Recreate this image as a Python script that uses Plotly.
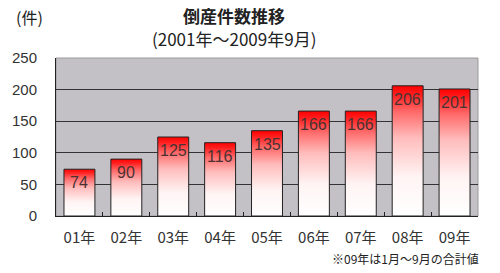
import plotly.graph_objects as go

categories = ["01年", "02年", "03年", "04年", "05年", "06年", "07年", "08年", "09年"]
values = [74, 90, 125, 116, 135, 166, 166, 206, 201]
y_ticks = [0, 50, 100, 150, 200, 250]

W, H = 500, 273
L, R, T, B = 47, 22, 58, 57
FONT = "Liberation Sans, Arial, Noto Sans CJK JP, sans-serif"
JFONT = "Noto Sans CJK JP, sans-serif"
BAR_W = 0.66

def px(x):
    return (x - L) / (W - L - R)

def py(y):
    return 1 - (y - T) / (H - T - B)

fig = go.Figure()
xs = list(range(len(categories)))
for i, v in zip(xs, values):
    fig.add_trace(go.Scatter(
        x=[i - BAR_W / 2, i + BAR_W / 2, i + BAR_W / 2, i - BAR_W / 2, i - BAR_W / 2],
        y=[0, 0, v, v, 0],
        mode="lines", line=dict(width=1, color="#222222"), fill="toself",
        fillgradient=dict(type="vertical", start=0, stop=v,
                          colorscale=[[0, "#ffffff"], [0.3, "#fff4f4"], [0.6, "#ffbcbc"],
                                      [0.8, "#ff6a6a"], [0.93, "#ff2020"], [1, "#ff0000"]]),
        hoverinfo="skip", showlegend=False,
    ))

for i, v in zip(xs, values):
    fig.add_annotation(x=i, y=v, xref="x", yref="y", text=str(v), showarrow=False,
                       xanchor="center", yanchor="top", yshift=-3,
                       font=dict(family=FONT, size=16, color="#4a3232"))

fig.update_layout(
    width=W, height=H, margin=dict(l=L, r=R, t=T, b=B),
    paper_bgcolor="white", plot_bgcolor="#c3c1c6",
    font=dict(family=FONT, size=15, color="#333333"),
    showlegend=False,
)
fig.update_xaxes(
    range=[-0.5, len(categories) - 0.5], tickvals=xs, ticktext=categories,
    tickfont=dict(family=JFONT, size=15, color="#333333"),
    ticks="outside", ticklen=8, tickcolor="rgba(0,0,0,0)",
    showgrid=False, zeroline=False, showline=True, linecolor="#222222", linewidth=1,
    mirror=False,
    minor=dict(tickvals=[i + 0.5 for i in xs[:-1]], ticks="inside", ticklen=4, tickcolor="#222222", showgrid=False),
)
fig.update_yaxes(
    range=[0, 250], tickvals=y_ticks,
    tickfont=dict(family=FONT, size=15, color="#333333"),
    ticks="outside", ticklen=15, tickcolor="rgba(0,0,0,0)",
    showgrid=True, gridcolor="#333333", gridwidth=1, zeroline=False,
    showline=True, linecolor="#222222", linewidth=1,
)
fig.add_shape(type="rect", xref="paper", yref="paper", x0=0, x1=1, y0=0, y1=1,
              line=dict(color="#9a9a9a", width=1), layer="below")

anns = [
    dict(text="<b>倒産件数推移</b>", x=px(229), y=py(16), size=17, xanchor="center"),
    dict(text="(2001年～2009年9月)", x=px(229), y=py(38), size=17, xanchor="center"),
    dict(text="(件)", x=px(4), y=py(17), size=16, xanchor="left"),
    dict(text="※09年は1月～9月の合計値", x=px(481), y=py(258), size=12, xanchor="right"),
]
for a in anns:
    fig.add_annotation(text=a["text"], x=a["x"], y=a["y"], xref="paper", yref="paper",
                       xanchor=a["xanchor"], yanchor="middle", showarrow=False,
                       font=dict(family=JFONT, size=a["size"], color="#222222"))

fig.write_html("out.html")
